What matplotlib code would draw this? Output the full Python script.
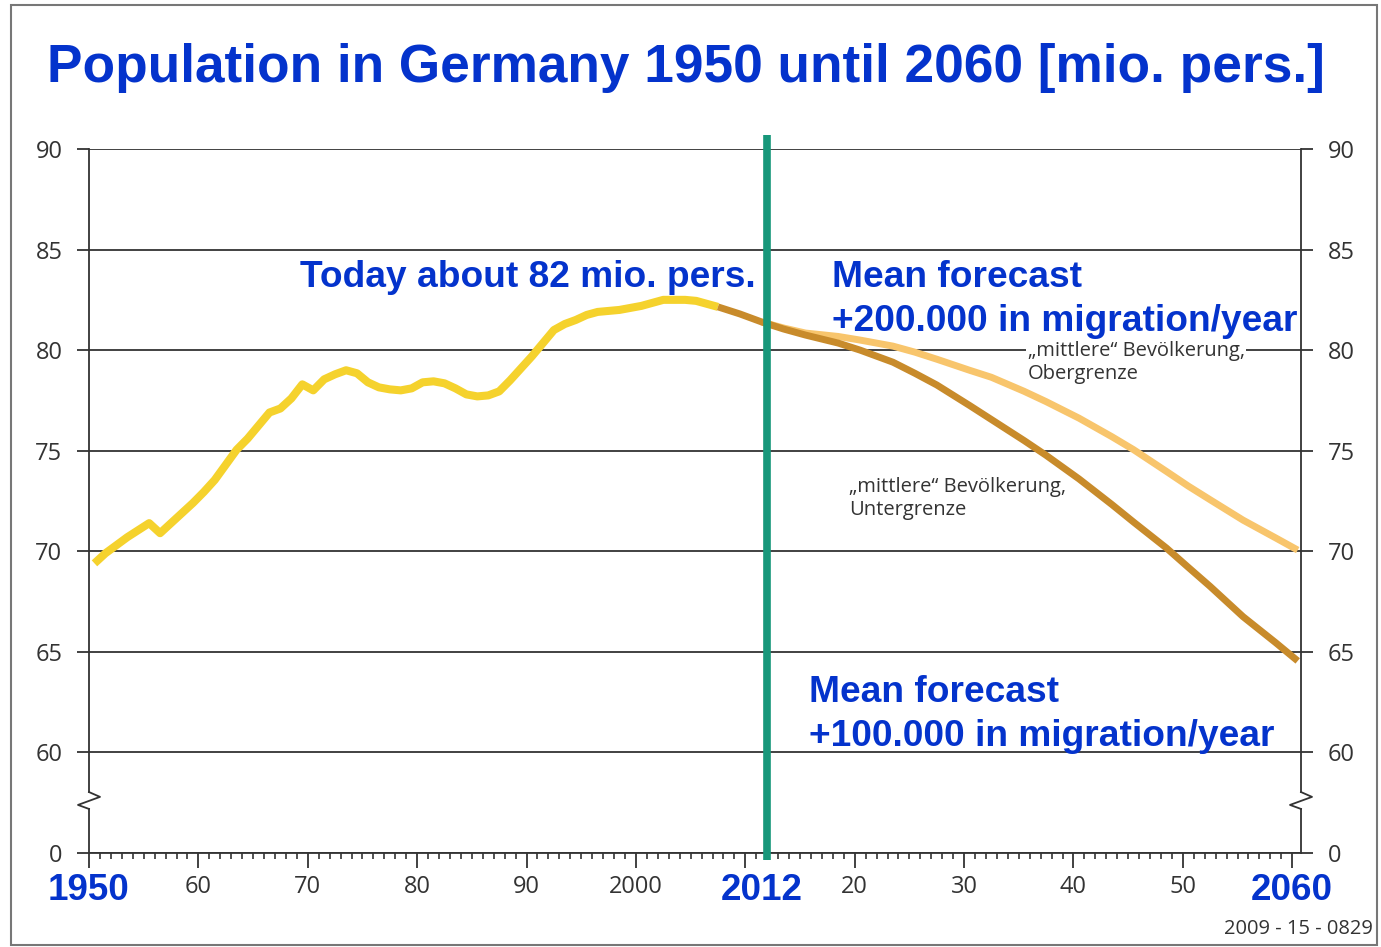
import matplotlib
matplotlib.use("Agg")
import matplotlib.pyplot as plt
from matplotlib.patches import Rectangle

# --- data (mio. persons) ---
hist_years = list(range(1950, 2008))
hist_pop = [69.4, 69.9, 70.3, 70.7, 71.05, 71.4, 70.9, 71.4, 71.9, 72.4,
            72.95, 73.55, 74.3, 75.05, 75.6, 76.25, 76.9, 77.1, 77.6, 78.3,
            78.0, 78.55, 78.8, 79.0, 78.85, 78.4, 78.15, 78.05, 78.0, 78.1,
            78.4, 78.45, 78.35, 78.1, 77.8, 77.7, 77.75, 77.95, 78.5, 79.1,
            79.7, 80.35, 81.0, 81.3, 81.5, 81.75, 81.9, 81.95, 82.0, 82.1,
            82.2, 82.35, 82.5, 82.5, 82.5, 82.45, 82.3, 82.15]

low_years = [2007, 2009, 2011, 2013, 2015, 2018, 2020, 2023, 2025, 2027,
             2030, 2032, 2035, 2037, 2040, 2043, 2045, 2048, 2050, 2052,
             2055, 2058, 2060]
low_pop = [82.15, 81.8, 81.4, 81.05, 80.75, 80.35, 80.0, 79.4, 78.85, 78.27,
           77.25, 76.55, 75.5, 74.77, 73.6, 72.33, 71.45, 70.16, 69.2, 68.25,
           66.75, 65.45, 64.55]

up_years = [2011, 2013, 2015, 2018, 2020, 2023, 2025, 2027, 2030, 2032,
            2035, 2037, 2040, 2043, 2045, 2048, 2050, 2052, 2055, 2058, 2060]
up_pop = [81.4, 81.1, 80.85, 80.68, 80.5, 80.2, 79.9, 79.55, 79.0, 78.65,
          77.95, 77.44, 76.62, 75.7, 75.05, 73.97, 73.24, 72.56, 71.55, 70.66,
          70.06]

split_year = 2012
mid = 0.5  # values are plotted at mid-year

BLUE = "#0433CC"
GRAY = "#333333"
TXT = "Open Sans"
BOLD = dict(fontweight="bold", family="Liberation Sans", color=BLUE)

fig = plt.figure(figsize=(13.81, 9.47), dpi=100)
ax = fig.add_axes([89 / 1381, 1 - 853 / 947, 1212 / 1381, 704 / 947])

# y axis is broken: "0" sits at 55
ax.set_xlim(1950, 2060.8)
ax.set_ylim(55, 90)
yt = [55, 60, 65, 70, 75, 80, 85, 90]
ax.set_yticks(yt)
ax.set_yticklabels(["0"] + [str(v) for v in yt[1:]])
ax.tick_params(axis="y", which="both", direction="out", length=8.6, width=1.3,
               color=GRAY, left=True, right=True, labelleft=True, labelright=True,
               labelsize=17, labelcolor=GRAY, pad=10.5)
for lab in ax.get_yticklabels():
    lab.set_family(TXT)

ax.set_xticks(range(1950, 2061, 10))
ax.set_xticks(range(1950, 2061, 1), minor=True)
ax.set_xticklabels(["", "60", "70", "80", "90", "2000", "", "20", "30", "40", "50", ""])
ax.tick_params(axis="x", which="major", direction="out", length=11, width=1.3,
               color=GRAY, labelsize=17, labelcolor=GRAY, pad=5)
ax.tick_params(axis="x", which="minor", direction="out", length=4.5, width=1.2, color=GRAY)
for lab in ax.get_xticklabels():
    lab.set_family(TXT)

ax.yaxis.grid(True, color=GRAY, lw=1.3, zorder=1)
ax.set_axisbelow(True)
for s in ["top", "left", "right"]:
    ax.spines[s].set_visible(False)
ax.spines["bottom"].set_color(GRAY)
ax.spines["bottom"].set_linewidth(1.3)

# vertical axes with break marks
tr = ax.get_yaxis_transform()
dx = 11 / 1212
for x0 in (0, 1):
    ax.plot([x0, x0], [90, 58.03], color=GRAY, lw=1.3, transform=tr, clip_on=False)
    ax.plot([x0, x0 + dx, x0 - dx, x0], [58.03, 57.79, 57.39, 57.19],
            color=GRAY, lw=1.3, transform=tr, clip_on=False)
    ax.plot([x0, x0], [57.19, 55], color=GRAY, lw=1.3, transform=tr, clip_on=False)

# series
ax.plot([y + mid for y in hist_years], hist_pop, color="#F5D22D", lw=5.8,
        solid_capstyle="butt", solid_joinstyle="round", zorder=4)
ax.plot([y + mid for y in up_years], up_pop, color="#F8C56C", lw=5.0,
        solid_capstyle="butt", solid_joinstyle="round", zorder=3)
ax.plot([y + mid for y in low_years], low_pop, color="#C88B2B", lw=5.0,
        solid_capstyle="butt", solid_joinstyle="round", zorder=4)

ax.plot([split_year, split_year], [54.65, 90.7], color="#17977A", lw=5.5,
        clip_on=False, zorder=6, solid_capstyle="butt")

# labels
ax.text(1969.3, 83.63, "Today about 82 mio. pers.", fontsize=26.7,
        va="center", ha="left", zorder=7, **BOLD)
ax.text(2017.9, 82.5, "Mean forecast\n+200.000 in migration/year",
        fontsize=26.7, va="center", ha="left", linespacing=1.33, zorder=7, **BOLD)
ax.text(2015.8, 61.9, "Mean forecast\n+100.000 in migration/year",
        fontsize=26.7, va="center", ha="left", linespacing=1.33, zorder=7, **BOLD)

ax.text(2035.8, 79.38, "\u201emittlere\u201c Bevölkerung,\nObergrenze", color=GRAY,
        fontsize=14.5, family=TXT, va="center", ha="left", linespacing=1.2,
        zorder=2, bbox=dict(facecolor="white", edgecolor="none", pad=1))
ax.text(2019.5, 72.64, "\u201emittlere\u201c Bevölkerung,\nUntergrenze", color=GRAY,
        fontsize=14.5, family=TXT, va="center", ha="left", linespacing=1.2, zorder=2)

xt = ax.get_xaxis_transform()
for xv, s in [(1950, "1950"), (split_year - 0.5, "2012"), (2060, "2060")]:
    ax.text(xv, -0.0526, s, transform=xt, fontsize=26.5, ha="center",
            va="center", **BOLD)

fig.text(47 / 1381, 1 - 68 / 947, "Population in Germany 1950 until 2060 [mio. pers.]",
         fontsize=38.3, ha="left", va="center", **BOLD)
fig.text(1373 / 1381, 1 - 929 / 947, "2009 - 15 - 0829", color=GRAY, fontsize=14.5,
         family=TXT, ha="right", va="center")

fig.add_artist(Rectangle((11 / 1381, 2 / 947), 1366 / 1381, 940 / 947,
                         transform=fig.transFigure, fill=False, edgecolor="#777777",
                         lw=1.5))

fig.savefig("out.png", dpi=100)
